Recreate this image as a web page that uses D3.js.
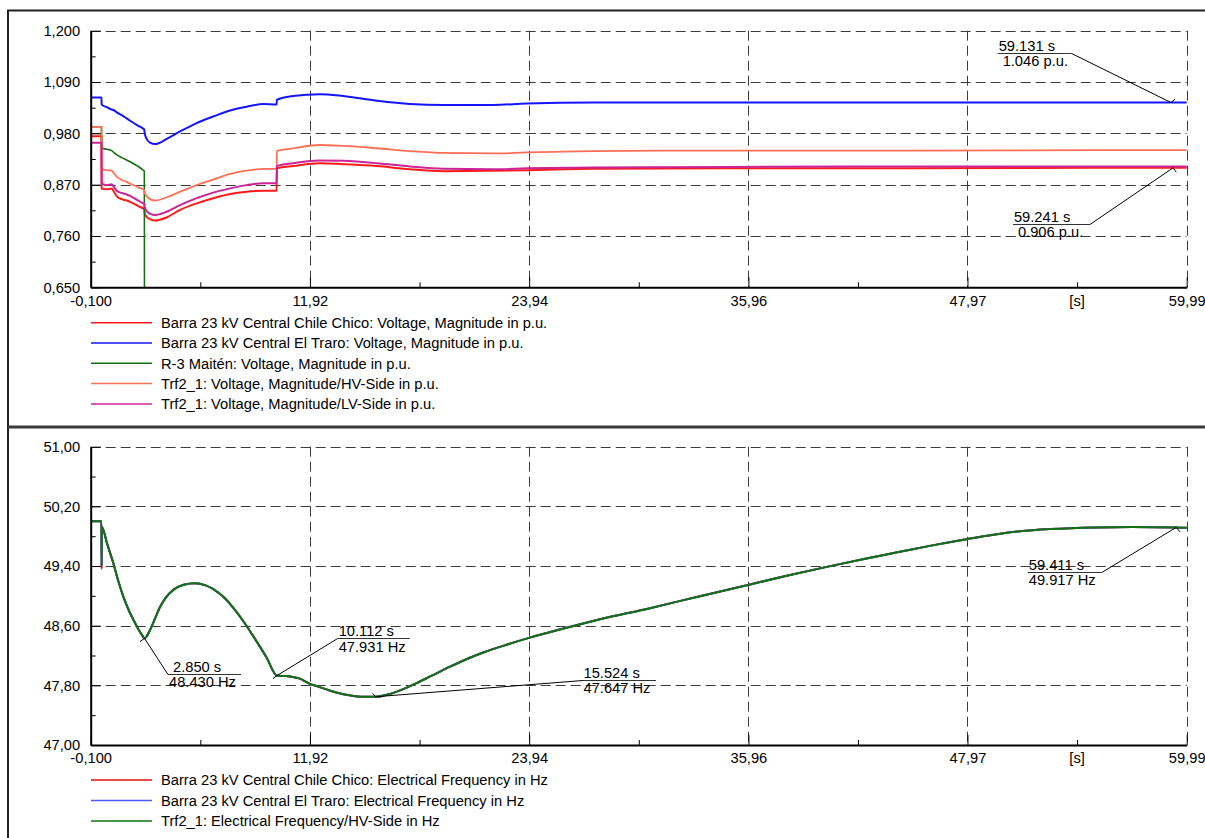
<!DOCTYPE html>
<html>
<head>
<meta charset="utf-8">
<script src="https://cdn.jsdelivr.net/npm/d3@7/dist/d3.min.js"></script>
<style>
  html, body { margin: 0; padding: 0; background: #ffffff; }
  svg { display: block; font-family: "Liberation Sans", Arial, sans-serif; }
</style>
</head>
<body>
<svg id="chart" width="1205" height="838"></svg>
<script>
// ---------- Voltage panel (p.u.) ----------
const voltTime = [-0.1, 0.49, 0.5, 0.52, 0.78, 1.05, 1.14, 1.33, 1.6, 1.87, 2.06, 2.42, 2.51, 2.78, 2.84, 2.86,
  3.0, 3.15, 3.43, 4.07, 4.8, 5.71, 6.62, 7.54, 8.45, 9.36, 10.09, 10.11, 11.0, 12.47, 13.75, 15.58, 17.4,
  19.23, 21.97, 23.8, 27.45, 35.0, 45.0, 55.0, 59.99];
const voltChileChico = [0.974, 0.974, 0.862, 0.861, 0.860, 0.862, 0.857, 0.845, 0.839, 0.836, 0.833, 0.826, 0.824, 0.819, 0.817, 0.808,
  0.800, 0.796, 0.793, 0.800, 0.816, 0.830, 0.841, 0.850, 0.855, 0.857, 0.857, 0.905, 0.910, 0.916, 0.914, 0.910, 0.903,
  0.899, 0.900, 0.901, 0.904, 0.905, 0.905, 0.906, 0.906];
const voltElTraro = [1.057, 1.057, 1.042, 1.041, 1.036, 1.031, 1.030, 1.025, 1.019, 1.012, 1.007, 0.998, 0.996, 0.990, 0.988, 0.980,
  0.966, 0.960, 0.957, 0.968, 0.984, 1.002, 1.016, 1.029, 1.037, 1.043, 1.042, 1.052, 1.060, 1.064, 1.060, 1.050, 1.043,
  1.041, 1.041, 1.044, 1.046, 1.046, 1.046, 1.046, 1.046];
const voltMaiten = [0.994, 0.994, 0.949, 0.948, 0.946, 0.943, 0.940, 0.934, 0.928, 0.923, 0.919, 0.911, 0.909, 0.901, 0.899, 0.0,
  0.0, 0.0, 0.0, 0.0, 0.0, 0.0, 0.0, 0.0, 0.0, 0.0, 0.0, 0.0, 0.0, 0.0, 0.0, 0.0, 0.0,
  0.0, 0.0, 0.0, 0.0, 0.0, 0.0, 0.0, 0.0];
const voltTrfHV = [0.994, 0.994, 0.905, 0.904, 0.901, 0.900, 0.896, 0.887, 0.880, 0.876, 0.872, 0.866, 0.864, 0.860, 0.858, 0.852,
  0.844, 0.839, 0.836, 0.843, 0.855, 0.869, 0.881, 0.893, 0.900, 0.904, 0.904, 0.942, 0.948, 0.955, 0.953, 0.948, 0.942,
  0.938, 0.937, 0.939, 0.942, 0.943, 0.943, 0.944, 0.944];
const voltTrfLV = [0.960, 0.960, 0.873, 0.872, 0.869, 0.871, 0.867, 0.857, 0.852, 0.849, 0.846, 0.838, 0.836, 0.830, 0.829, 0.822,
  0.812, 0.808, 0.805, 0.812, 0.826, 0.841, 0.853, 0.862, 0.869, 0.873, 0.873, 0.910, 0.916, 0.922, 0.921, 0.916, 0.909,
  0.904, 0.903, 0.905, 0.907, 0.908, 0.909, 0.909, 0.909];

const voltSeriesNames = [
  "Barra 23 kV Central Chile Chico: Voltage, Magnitude in p.u.",
  "Barra 23 kV Central El Traro: Voltage, Magnitude in p.u.",
  "R-3 Maitén: Voltage, Magnitude in p.u.",
  "Trf2_1: Voltage, Magnitude/HV-Side in p.u.",
  "Trf2_1: Voltage, Magnitude/LV-Side in p.u."
];
const voltTicks = [0.650, 0.760, 0.870, 0.980, 1.090, 1.200];
const voltTickLabels = ["0,650", "0,760", "0,870", "0,980", "1,090", "1,200"];

// ---------- Frequency panel (Hz) ----------
const freqTime = [-0.1, 0.49, 0.5, 0.51, 0.55, 0.8, 1.14, 1.4, 1.69, 2.0, 2.24, 2.5, 2.7, 2.85, 3.0, 3.15, 3.4, 3.7,
  4.0, 4.43, 5.0, 5.62, 6.2, 6.62, 7.2, 7.72, 8.3, 8.81, 9.55, 10.11, 10.5, 10.83, 11.37, 11.92, 12.29, 13.0, 13.75,
  14.4, 15.03, 15.52, 16.31, 17.0, 17.77, 18.6, 19.6, 20.5, 21.42, 22.7, 23.98, 25.4, 26.9, 27.82, 30.56, 33.3,
  35.99, 38.0, 40.38, 42.3, 44.26, 45.9, 47.91, 49.4, 50.84, 52.5, 55.02, 57.0, 59.41, 59.99];
const freqChileChico = [50.00, 50.00, 49.36, 49.92, 49.91, 49.70, 49.44, 49.21, 48.99, 48.80, 48.68, 48.56, 48.48, 48.43, 48.47, 48.54, 48.68, 48.85,
  48.97, 49.08, 49.15, 49.17, 49.14, 49.09, 48.98, 48.84, 48.65, 48.46, 48.17, 47.931, 47.925, 47.92, 47.89, 47.82, 47.79, 47.73, 47.68,
  47.655, 47.647, 47.647, 47.685, 47.745, 47.83, 47.93, 48.05, 48.15, 48.24, 48.345, 48.44, 48.535, 48.63, 48.685, 48.835, 48.995,
  49.15, 49.265, 49.395, 49.495, 49.59, 49.67, 49.76, 49.82, 49.865, 49.895, 49.918, 49.924, 49.917, 49.912];
const freqElTraro = [50.00, 50.00, 49.40, 49.92, 49.91, 49.70, 49.44, 49.21, 48.99, 48.80, 48.68, 48.56, 48.48, 48.43, 48.47, 48.54, 48.68, 48.85,
  48.97, 49.08, 49.15, 49.17, 49.14, 49.09, 48.98, 48.84, 48.65, 48.46, 48.17, 47.931, 47.925, 47.92, 47.89, 47.82, 47.79, 47.73, 47.68,
  47.655, 47.647, 47.647, 47.685, 47.745, 47.83, 47.93, 48.05, 48.15, 48.24, 48.345, 48.44, 48.535, 48.63, 48.685, 48.835, 48.995,
  49.15, 49.265, 49.395, 49.495, 49.59, 49.67, 49.76, 49.82, 49.865, 49.895, 49.918, 49.924, 49.917, 49.912];
const freqTrfHV = [50.00, 50.00, 49.40, 49.92, 49.91, 49.70, 49.44, 49.21, 48.99, 48.80, 48.68, 48.56, 48.48, 48.43, 48.47, 48.54, 48.68, 48.85,
  48.97, 49.08, 49.15, 49.17, 49.14, 49.09, 48.98, 48.84, 48.65, 48.46, 48.17, 47.931, 47.925, 47.92, 47.89, 47.82, 47.79, 47.73, 47.68,
  47.655, 47.647, 47.647, 47.685, 47.745, 47.83, 47.93, 48.05, 48.15, 48.24, 48.345, 48.44, 48.535, 48.63, 48.685, 48.835, 48.995,
  49.15, 49.265, 49.395, 49.495, 49.59, 49.67, 49.76, 49.82, 49.865, 49.895, 49.918, 49.924, 49.917, 49.912];

const freqSeriesNames = [
  "Barra 23 kV Central Chile Chico: Electrical Frequency in Hz",
  "Barra 23 kV Central El Traro: Electrical Frequency in Hz",
  "Trf2_1: Electrical Frequency/HV-Side in Hz"
];
const freqTicks = [47.00, 47.80, 48.60, 49.40, 50.20, 51.00];
const freqTickLabels = ["47,00", "47,80", "48,60", "49,40", "50,20", "51,00"];

// ---------- Shared time axis ----------
const timeTicks = [-0.100, 11.92, 23.94, 35.96, 47.97, 59.99];
const timeTickLabels = ["-0,100", "11,92", "23,94", "35,96", "47,97", "59,99"];
const timeUnitLabel = "[s]";

// ---------- Cursor read-outs ----------
const voltMarkTimes = [59.131, 59.241];
const voltMarkValues = [1.046, 0.906];
const freqMarkTimes = [2.850, 10.112, 15.524, 59.411];
const freqMarkValues = [48.430, 47.931, 47.647, 49.917];

// ---------- Drawing ----------
const svg = d3.select("#chart");
const FONT = 14.7;
const plotLeft = 90.7, plotRight = 1186.7;

// outer frame and panel divider
svg.append("path").attr("d", "M8,845V10.5H1215").attr("fill", "none").attr("stroke", "#222").attr("stroke-width", 2);
svg.append("line").attr("x1", 8).attr("x2", 1215).attr("y1", 427).attr("y2", 427)
  .attr("stroke", "#3a3a3a").attr("stroke-width", 3);

const x = d3.scaleLinear().domain([timeTicks[0], timeTicks[timeTicks.length - 1]]).range([plotLeft, plotRight]);
const snap = v => Math.round(v) + 0.5;

function drawPanel(cfg) {
  const { y, yTicks, yLabels, top, bottom, series, names, colors, widths, legendTop, legendStep, clipId, marks } = cfg;
  const g = svg.append("g");

  // dashed grid
  const grid = g.append("g").attr("stroke", "#3c3c3c").attr("stroke-width", 1).attr("stroke-dasharray", "10,5");
  timeTicks.slice(1).forEach(t => {
    grid.append("line").attr("x1", snap(x(t))).attr("x2", snap(x(t))).attr("y1", top).attr("y2", bottom);
  });
  yTicks.slice(1).forEach(v => {
    grid.append("line").attr("x1", plotLeft).attr("x2", plotRight).attr("y1", snap(y(v))).attr("y2", snap(y(v)));
  });

  // curves
  svg.append("clipPath").attr("id", clipId).append("rect")
    .attr("x", plotLeft).attr("y", top - 1).attr("width", plotRight - plotLeft + 1).attr("height", bottom - top + 1);
  const curves = g.append("g").attr("clip-path", `url(#${clipId})`);
  series.forEach((s, i) => {
    const line = d3.line().x(d => x(d[0])).y(d => y(d[1])).curve(d3.curveMonotoneX);
    curves.append("path").datum(s.time.map((t, k) => [t, s.values[k]]))
      .attr("d", line).attr("fill", "none").attr("stroke", colors[i])
      .attr("stroke-width", widths[i]).attr("stroke-linejoin", "round");
  });

  // x axis with major and minor ticks
  const xAxis = d3.axisBottom(x).tickValues(timeTicks).tickFormat((d, i) => timeTickLabels[i])
    .tickSizeInner(-10).tickSizeOuter(0).tickPadding(8);
  const xg = g.append("g").attr("transform", `translate(0,${bottom})`).call(xAxis);
  const minorX = timeTicks.slice(1).map((t, i) => (t + timeTicks[i]) / 2);
  g.append("g").attr("transform", `translate(0,${bottom})`)
    .call(d3.axisBottom(x).tickValues(minorX).tickFormat("").tickSizeInner(-5).tickSizeOuter(0))
    .call(a => a.select(".domain").remove());
  g.append("text").attr("x", x(minorX[minorX.length - 1])).attr("y", bottom + 8)
    .attr("dy", "0.71em").attr("text-anchor", "middle").attr("font-size", FONT).attr("fill", "#000")
    .text(timeUnitLabel);

  // y axis with major and minor ticks
  const yAxis = d3.axisLeft(y).tickValues(yTicks).tickFormat((d, i) => yLabels[i])
    .tickSizeInner(-10).tickSizeOuter(0).tickPadding(10.5);
  const yg = g.append("g").attr("transform", `translate(${plotLeft},0)`).call(yAxis);
  const minorY = yTicks.slice(1).map((v, i) => (v + yTicks[i]) / 2);
  g.append("g").attr("transform", `translate(${plotLeft},0)`)
    .call(d3.axisLeft(y).tickValues(minorY).tickFormat("").tickSizeInner(-5).tickSizeOuter(0))
    .call(a => a.select(".domain").remove());

  [xg, yg].forEach(a => {
    a.select(".domain").attr("stroke", "#000").attr("stroke-width", 2);
    a.selectAll("text").attr("font-size", FONT).attr("fill", "#000").attr("font-family", null);
  });
  g.selectAll(".tick line").attr("stroke", "#000").attr("stroke-width", 1);

  // cursor read-outs
  const ann = g.append("g").attr("font-size", FONT).attr("fill", "#000");
  marks.forEach(m => {
    const px = x(m.t), py = y(m.v);
    const ux = px + m.dx, uy = py + m.dy;
    const attachX = m.attach === "left" ? ux : ux + m.len;
    ann.append("line").attr("x1", ux).attr("x2", ux + m.len).attr("y1", snap(uy)).attr("y2", snap(uy))
      .attr("stroke", "#333").attr("stroke-width", 1);
    ann.append("line").attr("x1", attachX).attr("y1", snap(uy)).attr("x2", px).attr("y2", py)
      .attr("stroke", "#000").attr("stroke-width", 1);
    ann.append("line").attr("x1", px).attr("y1", py).attr("x2", px + m.tick[0]).attr("y2", py + m.tick[1])
      .attr("stroke", "#000").attr("stroke-width", 1);
    ann.append("text").attr("x", ux + m.tx[0]).attr("y", uy - 2).text(m.t.toFixed(3) + " s");
    ann.append("text").attr("x", ux + m.tx[1]).attr("y", uy + 13.5).text(m.v.toFixed(3) + " " + m.unit);
  });

  // legend
  const leg = g.append("g");
  names.forEach((n, i) => {
    const ly = legendTop + i * legendStep;
    leg.append("line").attr("x1", 91).attr("x2", 152).attr("y1", ly).attr("y2", ly)
      .attr("stroke", colors[i]).attr("stroke-width", 1.5);
    leg.append("text").attr("x", 161).attr("y", ly + 5.2).attr("font-size", FONT).attr("fill", "#000").text(n);
  });
}

// Voltage panel
const yVolt = d3.scaleLinear().domain([voltTicks[0], voltTicks[voltTicks.length - 1]]).range([287.3, 30.7]);
const voltColors = ["#ff1a1a", "#1414ff", "#156f15", "#ff6f55", "#cc2495"];
drawPanel({
  y: yVolt, yTicks: voltTicks, yLabels: voltTickLabels, top: 30.7, bottom: 287.3,
  series: [
    { time: voltTime, values: voltChileChico },
    { time: voltTime, values: voltElTraro },
    { time: voltTime, values: voltMaiten },
    { time: voltTime, values: voltTrfHV },
    { time: voltTime, values: voltTrfLV }
  ],
  names: voltSeriesNames, colors: voltColors, widths: [2, 2, 1.6, 1.8, 2],
  legendTop: 322.7, legendStep: 20.3, clipId: "clipVolt",
  marks: [
    { t: voltMarkTimes[0], v: voltMarkValues[0], unit: "p.u.", dx: -173.4, dy: -49.8, len: 74, attach: "right", tx: [1, 5], tick: [4, -3.4] },
    { t: voltMarkTimes[1], v: voltMarkValues[1], unit: "p.u.", dx: -160.1, dy: 56.1, len: 77, attach: "right", tx: [1, 5], tick: [3.3, 4.3] }
  ]
});

// Frequency panel
const yFreq = d3.scaleLinear().domain([freqTicks[0], freqTicks[freqTicks.length - 1]]).range([745, 446.7]);
const freqColors = ["#dd1010", "#4a5aff", "#127212"];
drawPanel({
  y: yFreq, yTicks: freqTicks, yLabels: freqTickLabels, top: 446.7, bottom: 745,
  series: [
    { time: freqTime, values: freqChileChico },
    { time: freqTime, values: freqElTraro },
    { time: freqTime, values: freqTrfHV }
  ],
  names: freqSeriesNames, colors: freqColors, widths: [2, 2, 2],
  legendTop: 780, legendStep: 20.5, clipId: "clipFreq",
  marks: [
    { t: freqMarkTimes[0], v: freqMarkValues[0], unit: "Hz", dx: 23.5, dy: 35.6, len: 73, attach: "left", tx: [5, 1], tick: [-4.5, 3.3] },
    { t: freqMarkTimes[1], v: freqMarkValues[1], unit: "Hz", dx: 60.7, dy: -37.3, len: 72, attach: "left", tx: [1, 1], tick: [-4, 3] },
    { t: freqMarkTimes[2], v: freqMarkValues[2], unit: "Hz", dx: 207.3, dy: -16.9, len: 73, attach: "left", tx: [0.5, 0.5], tick: [-3, -3.4] },
    { t: freqMarkTimes[3], v: freqMarkValues[3], unit: "Hz", dx: -148.4, dy: 44.2, len: 74, attach: "right", tx: [1, 1], tick: [4, 4.5] }
  ]
});
</script>
</body>
</html>
